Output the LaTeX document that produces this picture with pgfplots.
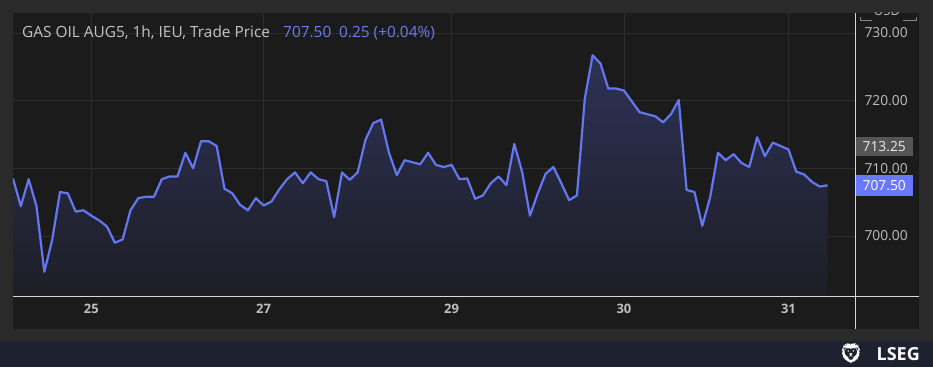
\documentclass[border=0pt]{standalone}
\usepackage{pgfplots}
\usepackage{pgfplotstable}
\pgfplotsset{compat=1.18}
\usepackage{fontspec}
\setmainfont{Open Sans}
\newfontfamily\emojifont{Noto Emoji}
\definecolor{outerbg}{RGB}{42,42,42}
\definecolor{panelbg}{RGB}{27,27,27}
\definecolor{navybar}{RGB}{30,34,48}
\definecolor{gridc}{RGB}{46,46,46}
\definecolor{linec}{RGB}{100,118,240}
\definecolor{boxblue}{RGB}{104,120,255}
\definecolor{boxgray}{RGB}{85,85,85}
\definecolor{labelc}{RGB}{190,190,190}
\definecolor{titlec}{RGB}{196,196,196}
\definecolor{bluetxt}{RGB}{108,124,240}
\definecolor{filltop}{RGB}{45,50,86}
\definecolor{fillbot}{RGB}{29,30,37}
\definecolor{axisc}{RGB}{215,215,215}

\pgfplotstableread{
i v
0 708.5
1 704.4
2 708.4
3 704.4
4 694.7
5 699.4
6 706.5
7 706.3
8 703.6
9 703.8
10 703.0
11 702.3
12 701.4
13 699.0
14 699.5
15 703.8
16 705.6
17 705.8
18 705.8
19 708.4
20 708.8
21 708.8
22 712.3
23 710.0
24 714.0
25 714.0
26 713.3
27 707.0
28 706.3
29 704.6
30 703.8
31 705.6
32 704.5
33 705.1
34 706.9
35 708.4
36 709.4
37 707.8
38 709.4
39 708.4
40 708.1
41 702.8
42 709.4
43 708.3
44 709.4
45 714.2
46 716.7
47 717.2
48 712.3
49 709.0
50 711.2
51 710.9
52 710.6
53 712.3
54 710.5
55 710.2
56 710.5
57 708.4
58 708.5
59 705.5
60 706.0
61 707.8
62 708.8
63 707.5
64 713.6
65 709.5
66 703.0
67 706.3
68 709.2
69 710.2
70 707.8
71 705.3
72 706.0
73 720.3
74 726.7
75 725.5
76 721.8
77 721.8
78 721.5
79 719.9
80 718.3
81 718.0
82 717.7
83 716.8
84 718.0
85 720.1
86 706.8
87 706.5
88 701.5
89 705.7
90 712.3
91 711.2
92 712.1
93 710.8
94 710.2
95 714.6
96 711.8
97 713.8
98 713.3
99 712.8
100 709.5
101 709.1
102 708.0
103 707.3
104 707.5
}\pricedata

\begin{document}
\begin{tikzpicture}[x=1pt,y=1pt]
% backgrounds
\fill[outerbg] (0,0) rectangle (933,367);
\fill[navybar] (0,0) rectangle (933,26);
\fill[panelbg] (13,38) rectangle (919,354);
\begin{axis}[
  at={(13pt,71pt)}, anchor=south west,
  scale only axis, width=842pt, height=283pt,
  xmin=0, xmax=107.5, ymin=691.13, ymax=732.96,
  axis line style={draw=none},
  major tick length=0pt,
  xtick={10,32,56,78,99},
  xticklabels={25,27,29,30,31},
  ytick={700,710,720,730},
  yticklabel pos=right,
  grid=major,
  major grid style={gridc, line width=0.8pt},
  /pgf/number format/.cd, fixed, fixed zerofill, precision=2, assume math mode=true,
  /pgfplots/.cd,
  ticklabel style={font=\fontsize{13.8}{15}\selectfont, text=labelc},
  xticklabel style={yshift=-5pt, font=\bfseries\fontsize{13}{15}\selectfont},
  yticklabel style={anchor=west, xshift=6pt},
  clip mode=individual,
]
\addplot[draw=none, top color=filltop, bottom color=fillbot] table[x=i,y=v] {\pricedata} \closedcycle;
\addplot[linec, line width=2.2pt, line join=round, mark=none] table[x=i,y=v] {\pricedata};
\draw[axisc, line width=1pt] (rel axis cs:0,0) -- ++(906pt,0pt);
\node[fill=boxgray, text=white!92!black, anchor=west, minimum width=58pt, minimum height=19pt, inner sep=0pt, font=\fontsize{13.8}{15}\selectfont] at (axis cs:107.5,713.25) {713.25};
\node[fill=boxblue, text=white, anchor=west, minimum width=58pt, minimum height=21pt, inner sep=0pt, font=\fontsize{13.8}{15}\selectfont] at (axis cs:107.5,707.5) {707.50};
\end{axis}
% vertical separator
\draw[axisc, line width=0.9pt] (855.5,38) -- (855.5,354);
% USD label, clipped at the panel top
\begin{scope}
\clip (856,38) rectangle (919,354);
\node[text=labelc, font=\fontsize{13}{15}\selectfont] at (887,356) {USD};
\end{scope}
\draw[labelc!70!black, line width=0.8pt] (860,350) -- (860,347) -- (872,347);
\draw[labelc!70!black, line width=0.8pt] (903,347) -- (916,347) -- (916,350);
% title
\node[anchor=base west, inner sep=0pt, text=titlec, font=\fontsize{15.4}{17}\selectfont] at (22,329.7) {GAS OIL AUG5, 1h, IEU, Trade Price};
\node[anchor=base west, inner sep=0pt, text=bluetxt, font=\fontsize{15.4}{17}\selectfont] at (283,329.7) {707.50};
\node[anchor=base west, inner sep=0pt, text=bluetxt, font=\fontsize{15.4}{17}\selectfont] at (339,329.7) {0.25 (+0.04\%)};
% LSEG logo
\node[anchor=east, inner sep=0pt, text=white, font=\emojifont\fontsize{20}{22}\selectfont] at (864,13) {🦁};
\node[anchor=east, inner sep=0pt, text=white, font=\bfseries\fontsize{18}{22}\selectfont] at (920,13) {LSEG};
\end{tikzpicture}
\end{document}
